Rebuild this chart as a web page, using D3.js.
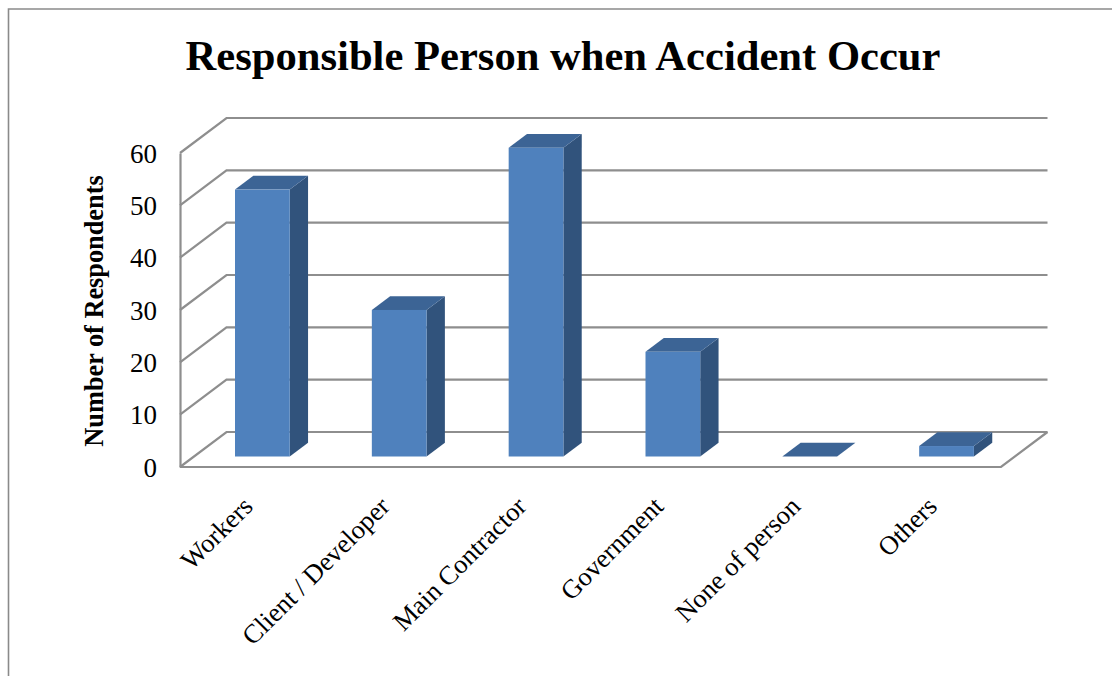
<!DOCTYPE html>
<html>
<head>
<meta charset="utf-8">
<script src="https://cdn.jsdelivr.net/npm/d3@7/dist/d3.min.js"></script>
<style>
  html, body { margin: 0; padding: 0; background: #fff; }
  svg { display: block; }
  text { font-family: "Liberation Serif", serif; fill: #000; }
</style>
</head>
<body>
<svg id="chart" width="1112" height="676"></svg>
<script>
const categories = ["Workers", "Client / Developer", "Main Contractor", "Government", "None of person", "Others"];
const respondents = [51, 28, 59, 20, 0, 2];
const valueTicks = [0, 10, 20, 30, 40, 50, 60];
const titleText = "Responsible Person when Accident Occur";
const yAxisTitle = "Number of Respondents";

const gridColor = "#8e8e8e";
const frontColor = "#4f81bd";
const sideColor = "#31537c";
const topColor = "#3c6495";

const svg = d3.select("#chart");

// Front edge of the floor and the oblique offset of the back wall.
const wallLeft = 180, floorRight = 1001;
const depthX = 46.5, depthY = 35;
// Bars stand between these fractions of the floor depth.
const barNear = 0.30, barFar = 0.694;

const y = d3.scaleLinear().domain([0, 60]).range([467, 153]);
const xFront = d3.scaleBand().domain(categories).range([wallLeft, floorRight]);
const x = d3.scaleBand()
  .domain(categories)
  .range([wallLeft + depthX * barNear, floorRight + depthX * barNear])
  .paddingInner(0.6)
  .paddingOuter(0.3);

// Outer frame, open on the right and at the bottom.
svg.append("path")
  .attr("d", "M8.5,676V9H1112")
  .attr("fill", "none")
  .attr("stroke", "#8a8a8a")
  .attr("stroke-width", 1.6);

// Gridlines across the back wall and along the side wall.
const grid = svg.append("g")
  .attr("fill", "none")
  .attr("stroke", gridColor)
  .attr("stroke-width", 2.2);

grid.selectAll("path")
  .data(valueTicks)
  .join("path")
  .attr("d", v => d3.line()([
    [wallLeft, y(v)],
    [wallLeft + depthX, y(v) - depthY],
    [floorRight + depthX, y(v) - depthY]
  ]));

// Floor outline.
grid.append("path").attr("d", d3.line()([
  [wallLeft, y(0)],
  [floorRight, y(0)],
  [floorRight + depthX, y(0) - depthY]
]));

// Value axis on the front edge of the side wall.
const yAxis = svg.append("g")
  .attr("transform", `translate(${wallLeft},0)`)
  .call(d3.axisLeft(y).tickValues(valueTicks).tickSize(0).tickPadding(23));
yAxis.select(".domain").attr("stroke", gridColor).attr("stroke-width", 2.2);
yAxis.selectAll("text")
  .attr("font-size", 27)
  .attr("font-family", '"Liberation Serif", serif')
  .attr("dy", "0.34em");

// Category axis with slanted labels.
const xAxis = svg.append("g")
  .attr("transform", `translate(0,${y(0)})`)
  .call(d3.axisBottom(xFront).tickSize(0).tickPadding(0));
xAxis.select(".domain").remove();
xAxis.selectAll("text")
  .attr("font-size", 26.5)
  .attr("font-family", '"Liberation Serif", serif')
  .attr("text-anchor", "end")
  .attr("y", 0)
  .attr("dy", 0)
  .attr("transform", "translate(6,41) rotate(-45)");

// Oblique column: side, top and front faces.
const barDx = depthX * (barFar - barNear);
const barDy = depthY * (barFar - barNear);
const lift = depthY * barNear;

const bars = svg.append("g")
  .selectAll("g")
  .data(categories.map((c, i) => ({ c, v: respondents[i] })))
  .join("g");

bars.append("path")
  .attr("fill", sideColor)
  .attr("d", d => {
    const r = x(d.c) + x.bandwidth(), t = y(d.v) - lift, b = y(0) - lift;
    return d3.line()([[r, t], [r + barDx, t - barDy], [r + barDx, b - barDy], [r, b]]) + "Z";
  });

bars.append("path")
  .attr("fill", topColor)
  .attr("d", d => {
    const l = x(d.c), r = l + x.bandwidth(), t = y(d.v) - lift;
    return d3.line()([[l, t], [r, t], [r + barDx, t - barDy], [l + barDx, t - barDy]]) + "Z";
  });

bars.append("rect")
  .attr("fill", frontColor)
  .attr("x", d => x(d.c))
  .attr("y", d => y(d.v) - lift)
  .attr("width", x.bandwidth())
  .attr("height", d => y(0) - y(d.v));

// Chart title and value-axis title.
svg.append("text")
  .attr("x", 563)
  .attr("y", 70)
  .attr("text-anchor", "middle")
  .attr("font-size", 42.6)
  .attr("font-weight", "bold")
  .text(titleText);

svg.append("text")
  .attr("transform", "translate(103,311) rotate(-90)")
  .attr("text-anchor", "middle")
  .attr("font-size", 26.3)
  .attr("font-weight", "bold")
  .text(yAxisTitle);
</script>
</body>
</html>
